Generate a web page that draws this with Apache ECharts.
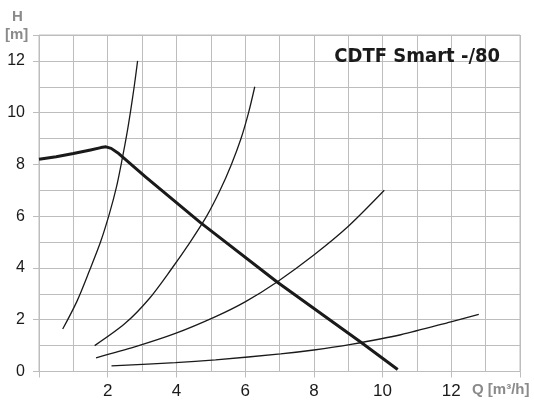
<!DOCTYPE html>
<html>
<head>
<meta charset="utf-8">
<script src="https://cdn.jsdelivr.net/npm/echarts@6/dist/echarts.min.js"></script>
<style>html,body{margin:0;padding:0;background:#fff}#c{width:534px;height:401px}</style>
</head>
<body>
<div id="c"></div>
<script>
// Data
const titleText = 'CDTF Smart -/80';
const xTicks = [2, 4, 6, 8, 10, 12];
const yTicks = [0, 2, 4, 6, 8, 10, 12];
const pumpCurve = [[0,8.2],[0.5,8.3],[1.0,8.42],[1.5,8.56],[1.8,8.65],[1.95,8.68],[2.1,8.62],[2.32,8.42],[3.10,7.52],[4.7,5.75],[6.94,3.45],[9.37,1.13],[10.44,0.08]];
const system1 = [[0.69,1.64],[1.1,2.7],[1.47,3.9],[1.79,5.0],[2.05,6.1],[2.25,7.1],[2.42,8.2],[2.56,9.2],[2.67,10.1],[2.77,11.0],[2.87,12.0]];
const system2 = [[1.62,1.0],[2.5,1.85],[3.2,2.8],[3.85,3.95],[4.4,5.0],[4.88,6.0],[5.27,7.0],[5.6,8.0],[5.88,9.0],[6.1,10.0],[6.28,11.0]];
const system3 = [[1.66,0.53],[2.81,0.96],[3.97,1.47],[5.14,2.12],[6.0,2.69],[6.94,3.47],[8.0,4.5],[8.98,5.58],[10.05,7.0]];
const system4 = [[2.11,0.22],[3.97,0.34],[5.14,0.45],[7.03,0.68],[8.0,0.83],[9.08,1.05],[10.53,1.42],[11.99,1.92],[12.8,2.21]];

const gridColor = '#bdbdbd';
const labelGrey = '#8a8a8a';
const chart = echarts.init(document.getElementById('c'), null, {renderer: 'canvas'});
const thin = d => ({type:'line', data:d, showSymbol:false, smooth:0.3, lineStyle:{color:'#1a1a1a', width:1.3}, z:3});
const greyText = (t, l, tp) => ({type: 'text', left: l, top: tp,
  style: {text: t, fill: labelGrey, fontFamily: 'Liberation Sans', fontWeight: 'bold', fontSize: 15}});
chart.setOption({
  animation: false,
  title: {text: titleText, right: 29, top: 42,
    textStyle: {fontFamily: 'DejaVu Sans Condensed', fontWeight: 'bold', fontSize: 20, color: '#1a1a1a'}},
  grid: {left: 39, right: 14, top: 35, bottom: 29.5, show: true, borderColor: gridColor, borderWidth: 1},
  xAxis: {type: 'value', min: 0, max: 14, interval: 2,
    axisLine: {show: false},
    axisTick: {show: true, length: 6, lineStyle: {color: gridColor}},
    splitLine: {show: true, lineStyle: {color: gridColor, width: 1}},
    minorTick: {show: false, splitNumber: 2},
    minorSplitLine: {show: true, lineStyle: {color: gridColor, width: 1}},
    axisLabel: {margin: 11, color: '#1a1a1a', fontFamily: 'Liberation Sans', fontSize: 17,
      formatter: v => xTicks.includes(v) ? String(v) : ''}},
  yAxis: {type: 'value', min: 0, max: 13, interval: 2,
    axisLine: {show: false},
    axisTick: {show: true, length: 6, lineStyle: {color: gridColor}},
    splitLine: {show: true, lineStyle: {color: gridColor, width: 1}},
    minorTick: {show: false, splitNumber: 2},
    minorSplitLine: {show: true, lineStyle: {color: gridColor, width: 1}},
    axisLabel: {margin: 14, color: '#1a1a1a', fontFamily: 'Liberation Sans', fontSize: 16,
      formatter: v => yTicks.includes(v) ? String(v) : ''}},
  graphic: [
    greyText('H', 12, 9),
    greyText('[m]', 5, 27),
    greyText('Q [m³/h]', 472, 382)
  ],
  series: [
    thin(system1), thin(system2), thin(system3), thin(system4),
    {type:'line', data: pumpCurve, showSymbol:false, smooth:false, lineStyle:{color:'#1a1a1a', width:3, join:'round'}, z:4}
  ]
});
</script>
</body>
</html>
